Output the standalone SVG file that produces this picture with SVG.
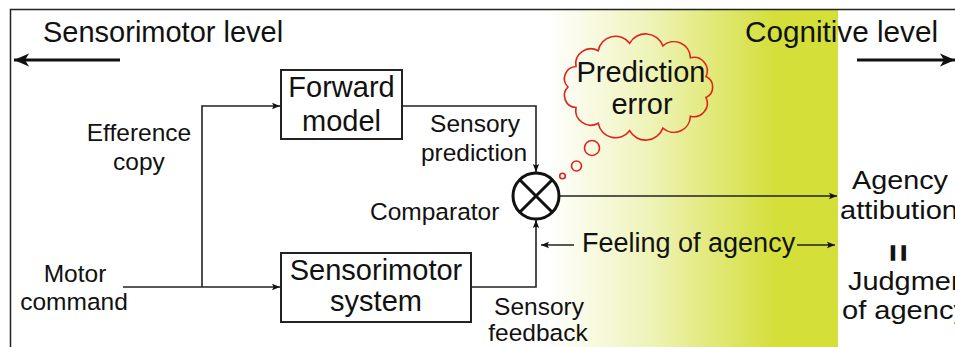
<svg xmlns="http://www.w3.org/2000/svg" width="955" height="347" viewBox="0 0 955 347">
<defs>
<linearGradient id="bg" gradientUnits="userSpaceOnUse" x1="548" y1="0" x2="775" y2="0">
<stop offset="0" stop-color="#ffffff"/>
<stop offset="0.45" stop-color="#eef3b8"/>
<stop offset="1" stop-color="#d4df3a"/>
</linearGradient>
<marker id="ah" viewBox="0 0 10 10" refX="10" refY="5" markerWidth="8" markerHeight="8" markerUnits="userSpaceOnUse" orient="auto">
<path d="M0,1 L10,5 L0,9 L2,5 Z" fill="#111"/>
</marker>
<marker id="big" viewBox="0 0 16 14" refX="15" refY="7" markerWidth="16" markerHeight="14" markerUnits="userSpaceOnUse" orient="auto">
<path d="M0,0.5 L15,7 L0,13.5 L4,7 Z" fill="#111"/>
</marker>
</defs>
<style>
text{font-family:"Liberation Sans",Arial,sans-serif;fill:#111}
.h{font-size:29px}
.r{font-size:26px}
.b{font-size:29px;text-anchor:middle}
.l{font-size:24.5px}
.lc{font-size:24.5px;text-anchor:middle}
.box{fill:#fff;stroke:#222;stroke-width:2}
.c{fill:none;stroke:#222;stroke-width:1.6}
.cloud{fill:none;stroke:#e0221f;stroke-width:1.6}
</style>
<rect x="548" y="10" width="290" height="337" fill="url(#bg)"/>
<path d="M10.5,347 V9.5 H955" fill="none" stroke="#222" stroke-width="1.5"/>
<g id="levels">
<text class="h" x="43" y="42">Sensorimotor level</text>
<line x1="120" y1="60" x2="14" y2="60" stroke="#111" stroke-width="3" marker-end="url(#big)"/>
<text class="h" x="745" y="42" textLength="193" lengthAdjust="spacingAndGlyphs">Cognitive level</text>
<line x1="857" y1="60" x2="955" y2="60" stroke="#111" stroke-width="3" marker-end="url(#big)"/>
</g>
<g id="connectors">
<polyline class="c" points="202,287 202,106 280,106" marker-end="url(#ah)"/>
<line class="c" x1="123" y1="287" x2="280" y2="287" marker-end="url(#ah)"/>
<polyline class="c" points="402,106 536,106 536,172" marker-end="url(#ah)"/>
<polyline class="c" points="471,287 536,287 536,220" marker-end="url(#ah)"/>
<line class="c" x1="559" y1="196" x2="837" y2="196" marker-end="url(#ah)"/>
<line class="c" x1="574" y1="245" x2="541" y2="245" marker-end="url(#ah)"/>
<line class="c" x1="797" y1="245" x2="835" y2="245" marker-end="url(#ah)"/>
</g>
<g id="forward-model">
<rect class="box" x="281" y="70" width="121" height="69"/>
<text class="b" x="341.5" y="97">Forward</text>
<text class="b" x="341.5" y="131">model</text>
</g>
<g id="sensorimotor-system">
<rect class="box" x="281" y="253" width="190" height="69"/>
<text class="b" x="376" y="280">Sensorimotor</text>
<text class="b" x="376" y="311">system</text>
</g>
<g id="comparator">
<circle cx="536" cy="196" r="23" fill="none" stroke="#111" stroke-width="3"/>
<path d="M519.7,179.7 L552.3,212.3 M552.3,179.7 L519.7,212.3" stroke="#111" stroke-width="3"/>
<text class="l" x="370" y="220">Comparator</text>
</g>
<g id="labels">
<text class="lc" x="139" y="141">Efference</text>
<text class="lc" x="139" y="170">copy</text>
<text class="lc" x="75" y="282">Motor</text>
<text class="lc" x="74" y="310">command</text>
<text class="lc" x="475" y="132">Sensory</text>
<text class="lc" x="474" y="161">prediction</text>
<text class="lc" x="539" y="315">Sensory</text>
<text class="lc" x="538" y="341">feedback</text>
<text x="582" y="252" style="font-size:27px">Feeling of agency</text>
</g>
<g id="prediction-error">
<path class="cloud" d="M568,87 A12,12 0 0 1 576,66.5 A15,15 0 0 1 598.2,50.8 A17.6,17.6 0 0 1 629.6,43.3 A18.4,18.4 0 0 1 662.9,45.9 A16.5,16.5 0 0 1 690.4,57.8 A13.4,13.4 0 0 1 706,76.5 A11.6,11.6 0 0 1 706,97.5 A13.4,13.4 0 0 1 690.4,116.2 A16.5,16.5 0 0 1 662.9,128.1 A18.4,18.4 0 0 1 629.6,130.7 A17.6,17.6 0 0 1 598.2,123.2 A15,15 0 0 1 576,107.5 A12,12 0 0 1 568,87 Z"/>
<circle class="cloud" cx="592" cy="148" r="7.5"/>
<circle class="cloud" cx="576.5" cy="166" r="5"/>
<circle class="cloud" cx="562.5" cy="176" r="2.8"/>
<text class="b" x="641" y="82">Prediction</text>
<text class="b" x="642" y="114">error</text>
</g>
<g id="agency">
<text class="r" x="852" y="189" textLength="96" lengthAdjust="spacingAndGlyphs">Agency</text>
<text class="r" x="840" y="219" textLength="118" lengthAdjust="spacingAndGlyphs">attibution</text>
<text x="890" y="260" style="font-size:21px;font-weight:bold;letter-spacing:5px;stroke:#111;stroke-width:1.4">II</text>
<text class="r" x="848" y="290" textLength="127" lengthAdjust="spacingAndGlyphs">Judgment</text>
<text class="r" x="842" y="319" textLength="126" lengthAdjust="spacingAndGlyphs">of agency</text>
</g>
</svg>
